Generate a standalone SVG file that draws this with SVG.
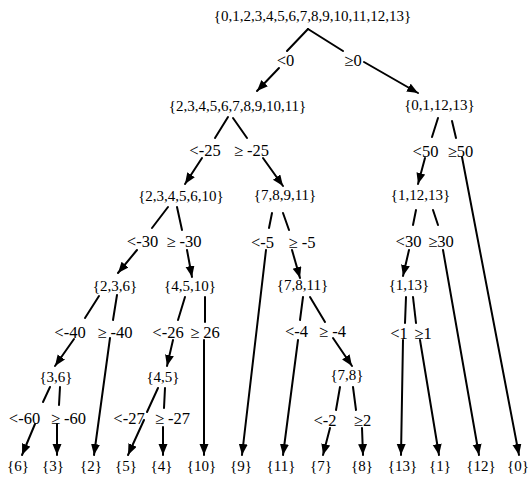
<svg xmlns="http://www.w3.org/2000/svg" width="531" height="480" viewBox="0 0 531 480">
  <style>
    text { font-family: "Liberation Serif", "Times New Roman", serif; fill: #000; text-anchor: middle; }
    .node text { font-size: 15px; }
    #labels text { font-size: 16.5px; }
    .seg { stroke: #000; stroke-width: 2; fill: none; stroke-linecap: round; }
    .arr { stroke: #000; stroke-width: 2; fill: none; stroke-linecap: round; marker-end: url(#head); }
  </style>
  <defs>
    <marker id="head" markerUnits="userSpaceOnUse" markerWidth="12" markerHeight="10" refX="11" refY="4.5" orient="auto">
      <path d="M0,0 L11,4.5 L0,9 z" fill="#000"/>
    </marker>
  </defs>
  <rect width="531" height="480" fill="#fff"/>

  <!-- connectors: upper stroke from parent, lower stroke with arrowhead to child -->
  <g id="connectors">
    <line class="seg" x1="308" y1="29" x2="287" y2="51"/>
    <line class="arr" x1="279" y1="68" x2="257" y2="91"/>
    <line class="seg" x1="308" y1="29" x2="343" y2="51"/>
    <line class="arr" x1="364" y1="62" x2="418" y2="93"/>

    <line class="seg" x1="228" y1="117" x2="215" y2="138"/>
    <line class="arr" x1="202" y1="158" x2="185" y2="184"/>
    <line class="seg" x1="233" y1="118" x2="247" y2="138"/>
    <line class="arr" x1="263" y1="158" x2="283" y2="186"/>

    <line class="seg" x1="438" y1="118" x2="432" y2="137"/>
    <line class="arr" x1="425" y1="158" x2="418" y2="184"/>
    <line class="seg" x1="452" y1="121" x2="456" y2="138"/>
    <line class="arr" x1="462" y1="157" x2="519" y2="455"/>

    <line class="seg" x1="168" y1="207" x2="152" y2="228"/>
    <line class="arr" x1="137" y1="250" x2="118" y2="273"/>
    <line class="seg" x1="177" y1="207" x2="182" y2="230"/>
    <line class="arr" x1="187" y1="250" x2="192" y2="277"/>

    <line class="seg" x1="272" y1="213" x2="269" y2="228"/>
    <line class="arr" x1="266" y1="250" x2="242" y2="455"/>
    <line class="seg" x1="283" y1="213" x2="289" y2="230"/>
    <line class="arr" x1="292" y1="250" x2="300" y2="278"/>

    <line class="seg" x1="416" y1="210" x2="413" y2="225"/>
    <line class="arr" x1="409" y1="250" x2="403" y2="276"/>
    <line class="seg" x1="433" y1="210" x2="438" y2="225"/>
    <line class="arr" x1="443" y1="250" x2="479" y2="455"/>

    <line class="seg" x1="99" y1="296" x2="85" y2="318"/>
    <line class="arr" x1="74" y1="339" x2="55" y2="366"/>
    <line class="seg" x1="117" y1="295" x2="113" y2="320"/>
    <line class="arr" x1="110" y1="338" x2="94" y2="455"/>

    <line class="seg" x1="185" y1="297" x2="178" y2="320"/>
    <line class="arr" x1="173" y1="340" x2="167" y2="366"/>
    <line class="seg" x1="205" y1="297" x2="205" y2="322"/>
    <line class="arr" x1="204" y1="340" x2="204" y2="455"/>

    <line class="seg" x1="303" y1="297" x2="300" y2="320"/>
    <line class="arr" x1="298" y1="340" x2="283" y2="455"/>
    <line class="seg" x1="310" y1="297" x2="325" y2="322"/>
    <line class="arr" x1="333" y1="338" x2="352" y2="366"/>

    <line class="seg" x1="406" y1="297" x2="405" y2="323"/>
    <line class="arr" x1="403" y1="340" x2="401" y2="455"/>
    <line class="seg" x1="413" y1="297" x2="416" y2="323"/>
    <line class="arr" x1="420" y1="340" x2="439" y2="455"/>

    <line class="seg" x1="50" y1="387" x2="43" y2="402"/>
    <line class="arr" x1="35" y1="424" x2="22" y2="455"/>
    <line class="seg" x1="60" y1="387" x2="59" y2="405"/>
    <line class="arr" x1="57" y1="424" x2="57" y2="455"/>

    <line class="seg" x1="158" y1="388" x2="147" y2="412"/>
    <line class="arr" x1="144" y1="420" x2="128" y2="455"/>
    <line class="seg" x1="165" y1="388" x2="164" y2="408"/>
    <line class="arr" x1="163" y1="427" x2="163" y2="455"/>

    <line class="seg" x1="340" y1="387" x2="336" y2="410"/>
    <line class="arr" x1="330" y1="428" x2="323" y2="455"/>
    <line class="seg" x1="353" y1="387" x2="356" y2="410"/>
    <line class="arr" x1="362" y1="428" x2="363" y2="455"/>
  </g>

  <!-- split labels -->
  <g id="labels">
    <text x="285.5" y="66">&lt;0</text>
    <text x="353" y="66">≥0</text>
    <text x="205" y="156">&lt;-25</text>
    <text x="251.5" y="156">≥ -25</text>
    <text x="142.5" y="247">&lt;-30</text>
    <text x="184" y="247">≥ -30</text>
    <text x="262.5" y="248">&lt;-5</text>
    <text x="302" y="248">≥ -5</text>
    <text x="425.5" y="157">&lt;50</text>
    <text x="460.5" y="157">≥50</text>
    <text x="408.5" y="247">&lt;30</text>
    <text x="441" y="247">≥30</text>
    <text x="70" y="338">&lt;-40</text>
    <text x="115" y="338">≥ -40</text>
    <text x="168" y="338">&lt;-26</text>
    <text x="205" y="338">≥ 26</text>
    <text x="296.5" y="337">&lt;-4</text>
    <text x="332.5" y="337">≥ -4</text>
    <text x="399" y="339">&lt;1</text>
    <text x="423" y="339">≥1</text>
    <text x="24.5" y="424">&lt;-60</text>
    <text x="68.5" y="424">≥ -60</text>
    <text x="129" y="424">&lt;-27</text>
    <text x="172.5" y="424">≥ -27</text>
    <text x="325" y="426">&lt;-2</text>
    <text x="362.5" y="426">≥2</text>
  </g>

  <!-- nodes -->
  <g id="n-root" class="node"><text x="312.5" y="21">{0,1,2,3,4,5,6,7,8,9,10,11,12,13}</text></g>
  <g id="n-2-11" class="node"><text x="237.5" y="111">{2,3,4,5,6,7,8,9,10,11}</text></g>
  <g id="n-0-13" class="node"><text x="439.5" y="110">{0,1,12,13}</text></g>
  <g id="n-2-10" class="node"><text x="181" y="201">{2,3,4,5,6,10}</text></g>
  <g id="n-7-11" class="node"><text x="285" y="200">{7,8,9,11}</text></g>
  <g id="n-1-12-13" class="node"><text x="420.5" y="200">{1,12,13}</text></g>
  <g id="n-2-3-6" class="node"><text x="115" y="291">{2,3,6}</text></g>
  <g id="n-4-5-10" class="node"><text x="190" y="291">{4,5,10}</text></g>
  <g id="n-7-8-11" class="node"><text x="302.5" y="290">{7,8,11}</text></g>
  <g id="n-1-13" class="node"><text x="409" y="290">{1,13}</text></g>
  <g id="n-3-6" class="node"><text x="56" y="382">{3,6}</text></g>
  <g id="n-4-5" class="node"><text x="163" y="382">{4,5}</text></g>
  <g id="n-7-8" class="node"><text x="347" y="380">{7,8}</text></g>
  <g id="leaf-6" class="node"><text x="18" y="471">{6}</text></g>
  <g id="leaf-3" class="node"><text x="53" y="471">{3}</text></g>
  <g id="leaf-2" class="node"><text x="91" y="471">{2}</text></g>
  <g id="leaf-5" class="node"><text x="126" y="471">{5}</text></g>
  <g id="leaf-4" class="node"><text x="161.5" y="471">{4}</text></g>
  <g id="leaf-10" class="node"><text x="201.5" y="471">{10}</text></g>
  <g id="leaf-9" class="node"><text x="241" y="471">{9}</text></g>
  <g id="leaf-11" class="node"><text x="281" y="471">{11}</text></g>
  <g id="leaf-7" class="node"><text x="321" y="471">{7}</text></g>
  <g id="leaf-8" class="node"><text x="362" y="471">{8}</text></g>
  <g id="leaf-13" class="node"><text x="402.5" y="471">{13}</text></g>
  <g id="leaf-1" class="node"><text x="440" y="471">{1}</text></g>
  <g id="leaf-12" class="node"><text x="481" y="471">{12}</text></g>
  <g id="leaf-0" class="node"><text x="518" y="471">{0}</text></g>
</svg>
